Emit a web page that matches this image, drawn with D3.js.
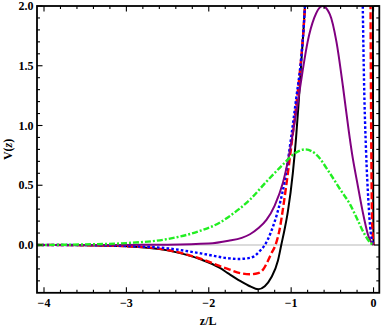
<!DOCTYPE html>
<html><head><meta charset="utf-8">
<script src="https://cdn.jsdelivr.net/npm/d3@7"></script>
<style>body{margin:0;background:#fff}svg{display:block}</style>
</head><body><svg id="c" width="382" height="327"></svg>
<script>
// ---- data ----
const xMajorTicks = [-4, -3, -2, -1, 0];
const xTickLabels = ["\u22124", "\u22123", "\u22122", "\u22121", "0"];
const yMajorTicks = [0, 0.5, 1, 1.5, 2];
const yTickLabels = ["0.0", "0.5", "1.0", "1.5", "2.0"];
const xLabel = "z/L";

// null marks a gap (curve leaves the plot range)
const blackCurve = [[-4.085,0],[-3.5,-0.002],[-3.0,-0.01],[-2.5,-0.045],[-2.1,-0.12],[-1.87,-0.19],[-1.77,-0.235],[-1.62,-0.3],[-1.5,-0.345],[-1.4,-0.37],[-1.32,-0.345],[-1.24,-0.27],[-1.16,-0.13],[-1.12,0],[-1.08,0.13],[-1.04,0.28],[-0.98,0.6],[-0.94,0.9],[-0.91,1.18],[-0.88,1.5],[-0.85,1.8],[-0.82,2.15],
  null,[-0.008,2.2],[-0.006,1.2],[-0.004,0.4],[0,0]];
const redCurve = [[-4.085,0],[-3.5,-0.002],[-3.0,-0.01],[-2.5,-0.042],[-2.1,-0.115],[-1.87,-0.175],[-1.77,-0.2],[-1.62,-0.235],[-1.5,-0.245],[-1.4,-0.235],[-1.34,-0.205],[-1.28,-0.13],[-1.24,-0.07],[-1.19,0],[-1.14,0.13],[-1.1,0.3],[-1.04,0.6],[-0.98,0.93],[-0.93,1.22],[-0.88,1.55],[-0.85,1.8],[-0.82,2.15],
  null,[-0.037,2.2],[-0.033,1.5],[-0.027,0.8],[-0.018,0.2],[0,0]];
const blueCurve = [[-4.085,0],[-3.5,-0.001],[-3.0,-0.008],[-2.5,-0.028],[-2.1,-0.07],[-1.77,-0.11],[-1.65,-0.117],[-1.5,-0.108],[-1.44,-0.09],[-1.38,-0.05],[-1.32,0],[-1.25,0.1],[-1.18,0.24],[-1.08,0.53],[-1.0,0.9],[-0.94,1.22],[-0.88,1.55],[-0.85,1.8],[-0.82,2.15],
  null,[-0.135,2.2],[-0.13,1.97],[-0.115,1.36],[-0.091,0.79],[-0.063,0.377],[-0.034,0.1],[0,0]];
const purpleCurve = [[-4.085,0],[-3.0,0.001],[-2.5,0.003],[-2.0,0.012],[-1.76,0.035],[-1.6,0.06],[-1.5,0.09],[-1.4,0.14],[-1.3,0.21],[-1.2,0.33],[-1.1,0.52],[-1.04,0.7],[-0.98,0.93],[-0.92,1.19],[-0.86,1.46],[-0.8,1.7],[-0.72,1.9],[-0.62,2.0],[-0.53,1.93],[-0.45,1.7],[-0.37,1.32],[-0.3,0.95],[-0.26,0.76],[-0.2,0.53],[-0.12,0.24],[-0.06,0.07],[0,0]];
const greenCurve = [[-4.085,0],[-3.5,0.005],[-3.0,0.016],[-2.5,0.05],[-2.1,0.12],[-1.86,0.19],[-1.76,0.235],[-1.5,0.38],[-1.3,0.53],[-1.09,0.68],[-0.95,0.77],[-0.83,0.8],[-0.7,0.76],[-0.53,0.6],[-0.4,0.46],[-0.285,0.34],[-0.2,0.22],[-0.124,0.11],[-0.04,0.02],[0,0]];

const seriesNames = ["black","red","blue","purple","green"];
const seriesData = [blackCurve, redCurve, blueCurve, purpleCurve, greenCurve];
const seriesColors = ["#000000","#ff0000","#0000ff","#800080","#22ee22"];
const seriesDash = [null, "7,3", "2.6,2.2", null, "6,2,2,2"];
const seriesWidth = [2, 2.4, 2.4, 2, 2.4];

// ---- layout ----
const svg = d3.select("#c");
const L = 37, R = 379.3, T = 6, B = 292.8;
const x = d3.scaleLinear().domain([-4.085, 0.07]).range([L, R]);
const y = d3.scaleLinear().domain([-0.4, 2.0]).range([B, T]);

svg.append("defs").append("clipPath").attr("id","clip")
  .append("rect").attr("x",L).attr("y",T).attr("width",R-L).attr("height",B-T);

// zero axis line
svg.append("line").attr("x1",L).attr("x2",R).attr("y1",y(0)).attr("y2",y(0))
  .attr("stroke","#cfcfcf").attr("stroke-width",1.6);

const line = d3.line().defined(d => d != null).x(d => x(d[0])).y(d => y(d[1])).curve(d3.curveMonotoneX);
const g = svg.append("g").attr("clip-path","url(#clip)");
seriesData.forEach((s,i) => {
  g.append("path").attr("d", line(s)).attr("fill","none")
    .attr("stroke", seriesColors[i]).attr("stroke-width", seriesWidth[i])
    .attr("stroke-dasharray", seriesDash[i]).attr("stroke-linejoin","round");
});

// frame with ticks on all sides (inward)
const xMinor = d3.range(-4, 0.001, 0.2).filter(v => !xMajorTicks.some(m => Math.abs(m - v) < 1e-6));
const yMinor = d3.range(-0.3, 2.0, 0.1).filter(v => !yMajorTicks.some(m => Math.abs(m - v) < 1e-6));
const tk = svg.append("g").attr("stroke","#000").attr("stroke-width",1.1);
const maj = 5.5, mnr = 3;
xMajorTicks.forEach(v => {
  tk.append("line").attr("x1",x(v)).attr("x2",x(v)).attr("y1",B).attr("y2",B-maj);
  tk.append("line").attr("x1",x(v)).attr("x2",x(v)).attr("y1",T).attr("y2",T+maj);
});
xMinor.forEach(v => {
  tk.append("line").attr("x1",x(v)).attr("x2",x(v)).attr("y1",B).attr("y2",B-mnr);
  tk.append("line").attr("x1",x(v)).attr("x2",x(v)).attr("y1",T).attr("y2",T+mnr);
});
yMajorTicks.forEach(v => {
  tk.append("line").attr("y1",y(v)).attr("y2",y(v)).attr("x1",L).attr("x2",L+maj);
  tk.append("line").attr("y1",y(v)).attr("y2",y(v)).attr("x1",R).attr("x2",R-maj);
});
yMinor.forEach(v => {
  tk.append("line").attr("y1",y(v)).attr("y2",y(v)).attr("x1",L).attr("x2",L+mnr);
  tk.append("line").attr("y1",y(v)).attr("y2",y(v)).attr("x1",R).attr("x2",R-mnr);
});
svg.append("rect").attr("x",L).attr("y",T).attr("width",R-L).attr("height",B-T)
  .attr("fill","none").attr("stroke","#000").attr("stroke-width",1.8);

// labels
const font = "'Liberation Serif', 'Times New Roman', serif";
const lab = svg.append("g").attr("font-family",font).attr("font-weight","bold").attr("font-size",12).attr("fill","#000");
xMajorTicks.forEach((v,i) => {
  lab.append("text").attr("x",x(v)).attr("y",B+14.5).attr("text-anchor","middle").text(xTickLabels[i]);
});
yMajorTicks.forEach((v,i) => {
  lab.append("text").attr("x",L-3.5).attr("y",y(v)).attr("dy","0.35em").attr("text-anchor","end").text(yTickLabels[i]);
});
lab.append("text").attr("x",(L+R)/2).attr("y",325).attr("text-anchor","middle").text(xLabel);
const yl = lab.append("text").attr("transform",`translate(11.5,${(T+B)/2}) rotate(-90)`).attr("text-anchor","middle");
yl.append("tspan").text("V(");
yl.append("tspan").attr("font-style","italic").text("z");
yl.append("tspan").text(")");
</script></body></html>
